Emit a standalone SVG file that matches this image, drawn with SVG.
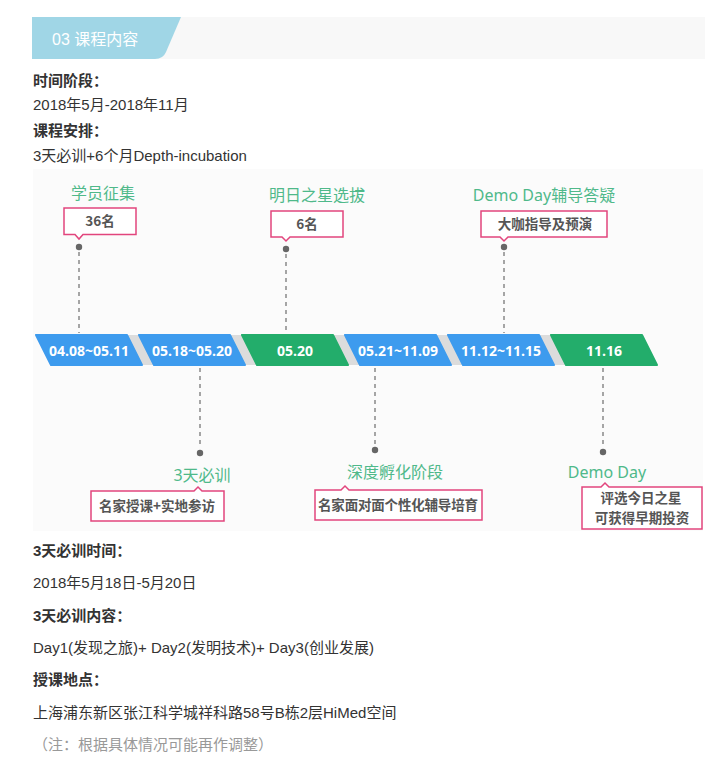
<svg xmlns="http://www.w3.org/2000/svg" width="719" height="769" viewBox="0 0 719 769">
<style>
.body{font-family:"Liberation Sans","Noto Sans CJK SC",sans-serif;font-size:15px;fill:#333}
.b{font-weight:bold}
.note{fill:#999}
.lbl{font-family:"Noto Sans","Noto Sans CJK SC",sans-serif;font-size:16px;fill:#4fb98a;text-anchor:middle}
.box{fill:#fff;stroke:#e2457d;stroke-width:1.5}
.bt{font-family:"Noto Sans CJK SC",sans-serif;font-size:13.5px;font-weight:bold;fill:#555;text-anchor:middle}
.rb{fill:#3d9bee;stroke:#3d9bee;stroke-width:2;stroke-linejoin:round}
.rg{fill:#23ad6b;stroke:#23ad6b;stroke-width:2;stroke-linejoin:round}
.gap{fill:#dcdcdc}
.rt{font-family:"Open Sans","Noto Sans",sans-serif;font-size:14px;font-weight:bold;fill:#fff;text-anchor:middle}
.dash{stroke:#777;stroke-width:1.3;stroke-dasharray:4 4;fill:none}
.dot{fill:#666}
</style>
<rect width="719" height="769" fill="#fff"/>
<g id="header">
<rect x="32" y="17" width="673" height="42" fill="#f8f8f8"/>
<path d="M32,17 H181 L166,52 Q163,59 155,59 H32 Z" fill="#a0d6e6"/>
<text x="52" y="45" style="font-family:'Liberation Sans','Noto Sans CJK SC',sans-serif;font-size:16px;fill:#fff">03 课程内容</text>
</g>
<g id="intro">
<text class="body b" x="33" y="86">时间阶段：</text>
<text class="body" x="33" y="110">2018年5月-2018年11月</text>
<text class="body b" x="33" y="136">课程安排：</text>
<text class="body" x="33" y="161">3天必训+6个月Depth-incubation</text>
</g>
<rect x="33" y="169" width="670" height="362" fill="#fbfbfb"/>
<g id="connectors">
<line class="dash" x1="79" y1="252" x2="79" y2="333"/>
<line class="dash" x1="286" y1="254" x2="286" y2="333"/>
<line class="dash" x1="504" y1="252" x2="504" y2="333"/>
<line class="dash" x1="200" y1="368" x2="200" y2="448"/>
<line class="dash" x1="375" y1="368" x2="375" y2="446"/>
<line class="dash" x1="603" y1="368" x2="603" y2="447"/>
<circle class="dot" cx="79" cy="247" r="3.2"/>
<circle class="dot" cx="286" cy="249" r="3.2"/>
<circle class="dot" cx="504" cy="247" r="3.2"/>
<circle class="dot" cx="200" cy="453" r="3.2"/>
<circle class="dot" cx="375" cy="450" r="3.2"/>
<circle class="dot" cx="603" cy="452" r="3.2"/>
</g>
<g id="timeline">
<path class="gap" d="M127,335 H139 L154,365 H142 Z"/>
<path class="gap" d="M230,335 H242 L257,365 H245 Z"/>
<path class="gap" d="M333,335 H345 L360,365 H348 Z"/>
<path class="gap" d="M436,335 H448 L463,365 H451 Z"/>
<path class="gap" d="M539,335 H551 L566,365 H554 Z"/>
</g>
<g id="r1"><path class="rb" d="M36,335 H127 L142,365 H51 Z"/><text class="rt" x="89" y="356">04.08~05.11</text></g>
<g id="r2"><path class="rb" d="M139,335 H230 L245,365 H154 Z"/><text class="rt" x="192" y="356">05.18~05.20</text></g>
<g id="r3"><path class="rg" d="M242,335 H333 L348,365 H257 Z"/><text class="rt" x="295" y="356">05.20</text></g>
<g id="r4"><path class="rb" d="M345,335 H436 L451,365 H360 Z"/><text class="rt" x="398" y="356">05.21~11.09</text></g>
<g id="r5"><path class="rb" d="M448,335 H539 L554,365 H463 Z"/><text class="rt" x="501" y="356">11.12~11.15</text></g>
<g id="r6"><path class="rg" d="M551,335 H642 L657,365 H566 Z"/><text class="rt" x="604" y="356">11.16</text></g>
<g id="c1">
<text class="lbl" x="103" y="199">学员征集</text>
<path class="box" d="M64,208 H136 V234.5 H83 L79,239 L75,234.5 H64 Z"/>
<text class="bt" x="100" y="226">36名</text>
</g>
<g id="c2">
<text class="lbl" x="317" y="201">明日之星选拔</text>
<path class="box" d="M271,211 H343 V237 H290 L286,241 L282,237 H271 Z"/>
<text class="bt" x="307" y="229">6名</text>
</g>
<g id="c3">
<text class="lbl" x="544" y="201">Demo Day辅导答疑</text>
<path class="box" d="M481,211 H607 V237 H508 L504,241 L500,237 H481 Z"/>
<text class="bt" x="545" y="229">大咖指导及预演</text>
</g>
<g id="c4">
<text class="lbl" x="202" y="481">3天必训</text>
<path class="box" d="M91,491 H194 L198,487 L202,491 H224 V521 H91 Z"/>
<text class="bt" x="157" y="511">名家授课+实地参访</text>
</g>
<g id="c5">
<text class="lbl" x="395" y="478">深度孵化阶段</text>
<path class="box" d="M315,490 H341 L345,486 L349,490 H482 V520 H315 Z"/>
<text class="bt" x="398" y="510" textLength="160" lengthAdjust="spacing">名家面对面个性化辅导培育</text>
</g>
<g id="c6">
<text class="lbl" x="607" y="478">Demo Day</text>
<path class="box" d="M582,487 H601 L605,483 L609,487 H702 V529 H582 Z"/>
<text class="bt" x="641" y="503">评选今日之星</text>
<text class="bt" x="642" y="523">可获得早期投资</text>
</g>
<g id="details">
<text class="body b" x="33" y="556">3天必训时间：</text>
<text class="body" x="33" y="588">2018年5月18日-5月20日</text>
<text class="body b" x="33" y="621">3天必训内容：</text>
<text class="body" x="33" y="653">Day1(发现之旅)+ Day2(发明技术)+ Day3(创业发展)</text>
<text class="body b" x="33" y="685">授课地点：</text>
<text class="body" x="33" y="718">上海浦东新区张江科学城祥科路58号B栋2层HiMed空间</text>
<text class="body note" x="33" y="750">（注：根据具体情况可能再作调整）</text>
</g>
</svg>
